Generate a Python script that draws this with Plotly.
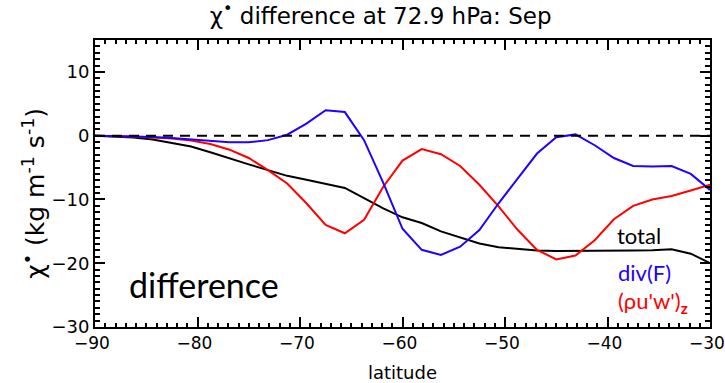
import plotly.graph_objects as go

latitude = [-90, -88.125, -86.25, -84.375, -82.5, -80.625, -78.75, -76.875, -75, -73.125,
            -71.25, -69.375, -67.5, -65.625, -63.75, -61.875, -60, -58.125, -56.25, -54.375,
            -52.5, -50.625, -48.75, -46.875, -45, -43.125, -41.25, -39.375, -37.5, -35.625,
            -33.75, -31.875, -30]

total = [0, -0.1, -0.3, -0.6, -1.1, -1.7, -2.6, -3.6, -4.5, -5.4,
         -6.3, -6.9, -7.5, -8.2, -9.8, -11.4, -12.8, -13.7, -15.0, -16.0,
         -16.9, -17.5, -17.8, -18.0, -18.1, -18.1, -18.1, -18.05, -18.0, -17.95,
         -17.8, -18.5, -20.0]

divF = [0, -0.05, -0.1, -0.2, -0.35, -0.6, -0.85, -1.05, -1.05, -0.7,
        0.15, 1.9, 4.0, 3.7, -0.7, -7.4, -14.6, -17.9, -18.7, -17.4,
        -14.8, -10.6, -6.7, -2.8, -0.25, 0.2, -1.5, -3.5, -4.75, -4.85,
        -4.75, -6.0, -8.5]

rhouw_z = [0, -0.05, -0.15, -0.3, -0.45, -0.75, -1.3, -2.2, -3.5, -5.4,
           -7.5, -10.6, -14.0, -15.3, -13.2, -8.0, -3.9, -2.1, -2.9, -4.75,
           -7.7, -11.1, -14.8, -17.9, -19.4, -18.8, -16.4, -13.1, -11.0, -10.0,
           -9.45, -8.6, -7.7]

x_ticks = [-90, -80, -70, -60, -50, -40, -30]
x_ticktext = ["\u221290", "\u221280", "\u221270", "\u221260", "\u221250", "\u221240", "\u221230"]
y_ticks = [-30, -20, -10, 0, 10]
y_ticktext = ["\u221230", "\u221220", "\u221210", "0", "10"]

FONT = "DejaVu Sans"

fig = go.Figure()
fig.add_trace(go.Scatter(x=latitude, y=total, mode="lines",
                         line=dict(color="black", width=2), showlegend=False))
fig.add_trace(go.Scatter(x=latitude, y=rhouw_z, mode="lines",
                         line=dict(color="#ff0000", width=2), showlegend=False))
fig.add_trace(go.Scatter(x=latitude, y=divF, mode="lines",
                         line=dict(color="#2200ff", width=2), showlegend=False))

fig.add_hline(y=0, line=dict(color="black", width=2, dash="10px,7px"))

axis_common = dict(showline=True, linecolor="black", linewidth=2, mirror="allticks",
                   ticks="inside", ticklen=10, tickwidth=2, tickcolor="black",
                   showgrid=False, zeroline=False,
                   ticklabeloverflow="allow", automargin=False)

fig.update_xaxes(range=[-90, -30], tickvals=x_ticks, ticktext=x_ticktext,
                 tickfont=dict(family=FONT, size=17, color="black"),
                 ticklabelshift=-3,
                 minor=dict(ticks="inside", ticklen=4, tickwidth=1.5, dtick=1, tickcolor="black"),
                 title=dict(text="latitude", font=dict(family=FONT, size=18, color="black"),
                            standoff=14),
                 **axis_common)
fig.update_yaxes(range=[-30, 15], tickvals=y_ticks, ticktext=y_ticktext,
                 tickfont=dict(family=FONT, size=18, color="black"),
                 minor=dict(ticks="inside", ticklen=5, tickwidth=1.5, dtick=1, tickcolor="black"),
                 **axis_common)

# y-axis title as rotated text (placed slightly below the plot centre, as in the reference)
fig.add_annotation(xref="paper", yref="paper", x=-0.098, y=0.467,
                   text="\u03c7<sup>\u2022</sup> (kg m<sup>-1</sup> s<sup>-1</sup>)",
                   textangle=-90, showarrow=False, xanchor="center", yanchor="middle",
                   font=dict(family=FONT, size=25, color="black"))

fig.add_annotation(x=-86.9, y=-23.4, text="difference", showarrow=False,
                   xanchor="left", yanchor="middle",
                   font=dict(family="Lato", size=34, color="black"))
fig.add_annotation(x=-39.3, y=-15.6, text="total", showarrow=False,
                   xanchor="left", yanchor="middle",
                   font=dict(family="Lato", size=22, color="black"))
fig.add_annotation(x=-39.2, y=-21.5, text="div(F)", showarrow=False,
                   xanchor="left", yanchor="middle",
                   font=dict(family="Lato", size=22, color="#2200ff"))
fig.add_annotation(x=-39.2, y=-26.1, text="(\u03c1u'w')<sub><b>z</b></sub>", showarrow=False,
                   xanchor="left", yanchor="middle",
                   font=dict(family="Lato", size=22, color="#ff0000"))

fig.update_layout(
    width=725, height=383,
    margin=dict(l=95, r=15, t=40, b=56),
    paper_bgcolor="white", plot_bgcolor="white",
    title=dict(text="\u03c7<sup>\u2022</sup> difference at 72.9 hPa: Sep",
               x=0.525, xanchor="center", y=0.958, yanchor="middle",
               font=dict(family=FONT, size=23, color="black")),
)

fig.write_html("out.html")
